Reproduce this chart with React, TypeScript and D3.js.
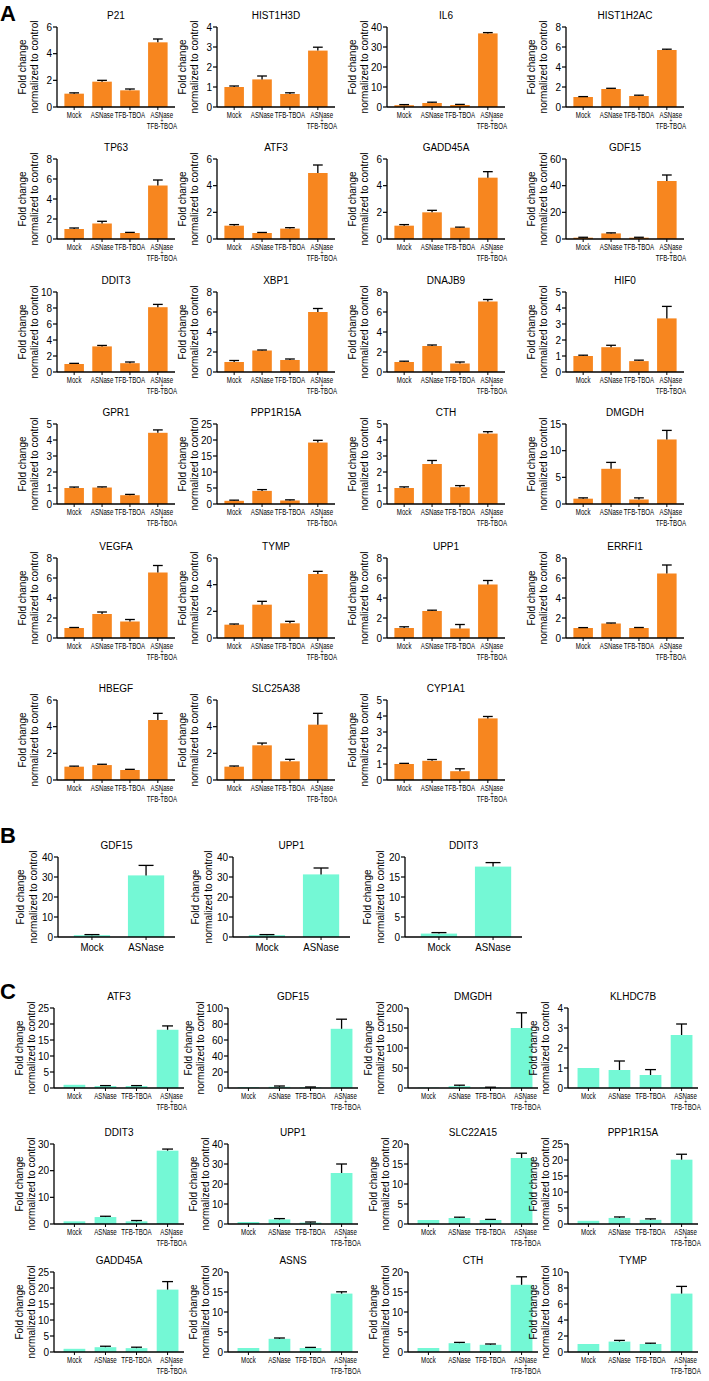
import React from "react";
import * as d3 from "d3";

const ORANGE = "#f7861f";
const TEAL = "#74f8d5";
const FONT = "'Liberation Sans', Arial, Helvetica, sans-serif";

// ---------- DATA ----------
const categoriesA = ["Mock", "ASNase", "TFB-TBOA", "ASNase + TFB-TBOA"];
const categoriesB = ["Mock", "ASNase"];

const genesA = ["P21", "HIST1H3D", "IL6", "HIST1H2AC", "TP63", "ATF3", "GADD45A", "GDF15", "DDIT3", "XBP1", "DNAJB9", "HIF0", "GPR1", "PPP1R15A", "CTH", "DMGDH", "VEGFA", "TYMP", "UPP1", "ERRFI1", "HBEGF", "SLC25A38", "CYP1A1"];
const yMaxA = [6, 4, 40, 8, 8, 6, 6, 60, 10, 8, 8, 5, 5, 25, 5, 15, 8, 6, 8, 8, 6, 6, 5];
const yStepA = [2, 1, 10, 2, 2, 2, 2, 20, 2, 2, 2, 1, 1, 5, 1, 5, 2, 2, 2, 2, 2, 2, 1];
const meansA = [
  [1.0, 1.9, 1.25, 4.85],
  [1.0, 1.38, 0.65, 2.82],
  [0.9, 2.0, 1.0, 36.8],
  [1.0, 1.8, 1.1, 5.7],
  [1.0, 1.55, 0.6, 5.35],
  [1.0, 0.45, 0.78, 4.95],
  [1.0, 2.0, 0.85, 4.6],
  [1.0, 4.2, 1.0, 43.5],
  [1.0, 3.2, 1.1, 8.1],
  [1.0, 2.15, 1.2, 6.0],
  [1.0, 2.6, 0.85, 7.05],
  [1.0, 1.55, 0.68, 3.35],
  [1.0, 1.03, 0.55, 4.45],
  [1.0, 4.1, 1.1, 19.2],
  [1.0, 2.5, 1.05, 4.4],
  [1.0, 6.6, 0.85, 12.1],
  [1.0, 2.4, 1.65, 6.55],
  [1.0, 2.5, 1.1, 4.8],
  [1.0, 2.7, 0.95, 5.35],
  [1.0, 1.45, 1.0, 6.45],
  [1.0, 1.12, 0.75, 4.5],
  [1.0, 2.6, 1.4, 4.15],
  [1.0, 1.2, 0.55, 3.85],
];
const errorsA = [
  [0.06, 0.1, 0.1, 0.25],
  [0.05, 0.17, 0.06, 0.17],
  [0.3, 0.4, 0.3, 0.4],
  [0.04, 0.07, 0.08, 0.08],
  [0.1, 0.22, 0.06, 0.55],
  [0.08, 0.04, 0.07, 0.6],
  [0.08, 0.15, 0.04, 0.45],
  [0.3, 0.4, 0.3, 4.5],
  [0.08, 0.12, 0.15, 0.35],
  [0.15, 0.05, 0.1, 0.35],
  [0.08, 0.1, 0.15, 0.2],
  [0.05, 0.12, 0.06, 0.75],
  [0.06, 0.04, 0.05, 0.18],
  [0.2, 0.4, 0.2, 0.7],
  [0.07, 0.22, 0.1, 0.12],
  [0.15, 1.2, 0.3, 1.7],
  [0.05, 0.2, 0.2, 0.7],
  [0.05, 0.25, 0.15, 0.2],
  [0.12, 0.08, 0.4, 0.4],
  [0.04, 0.05, 0.05, 0.85],
  [0.04, 0.06, 0.05, 0.5],
  [0.05, 0.17, 0.15, 0.85],
  [0.04, 0.08, 0.15, 0.12],
];

const genesB = ["GDF15", "UPP1", "DDIT3"];
const yMaxB = [40, 40, 20];
const yStepB = [10, 10, 5];
const meansB = [
  [0.9, 30.8],
  [0.9, 31.3],
  [0.85, 17.6],
];
const errorsB = [
  [0.3, 5.0],
  [0.3, 3.2],
  [0.25, 1.0],
];

const genesC = ["ATF3", "GDF15", "DMGDH", "KLHDC7B", "DDIT3", "UPP1", "SLC22A15", "PPP1R15A", "GADD45A", "ASNS", "CTH", "TYMP"];
const yMaxC = [25, 100, 200, 4, 30, 40, 20, 25, 25, 20, 20, 10];
const yStepC = [5, 20, 50, 1, 10, 10, 5, 5, 5, 5, 5, 2];
const meansC = [
  [1.0, 0.6, 0.6, 18.2],
  [1.0, 1.5, 0.8, 74],
  [1.0, 4.5, 1.0, 150],
  [1.0, 0.9, 0.65, 2.65],
  [1.0, 2.6, 1.0, 27.5],
  [1.0, 2.3, 0.7, 25.5],
  [1.0, 1.5, 1.0, 16.5],
  [1.0, 1.9, 1.3, 20.1],
  [1.0, 1.5, 1.2, 19.5],
  [1.0, 3.3, 1.0, 14.6],
  [1.0, 2.2, 1.8, 16.8],
  [1.0, 1.3, 1.0, 7.3],
];
const errorsC = [
  [0, 0.15, 0.15, 1.2],
  [0, 1.0, 0.5, 12],
  [0, 2.5, 1.0, 38],
  [0, 0.45, 0.27, 0.55],
  [0, 0.3, 0.3, 0.6],
  [0, 0.4, 0.3, 4.5],
  [0, 0.2, 0.15, 1.2],
  [0, 0.3, 0.3, 1.7],
  [0, 0.3, 0.3, 2.5],
  [0, 0.2, 0.15, 0.45],
  [0, 0.2, 0.2, 2.0],
  [0, 0.15, 0.1, 0.9],
];

// ---------- LAYOUT ----------
const PLOT_H = 80;
const A_COLS = [57, 217, 387, 566];
const A_TOPS = [27, 159, 292, 424, 558, 700];
const B_COLS = [58, 233, 405];
const B_TOPS = [857];
const C_COLS = [54, 228, 408, 568];
const C_TOPS = [1008, 1144, 1272];

type ChartProps = {
  title: string;
  cats: string[];
  means: number[];
  errs: number[];
  yMax: number;
  yStep: number;
  ax: number;
  top: number;
  axisLen: number;
  band: [number, number];
  padInner: number;
  padOuter: number;
  color: string;
  twoGroup?: boolean;
  yLab: [number, number];
};

const XL_SIZE = 8.3;
const XL_SCALE = 0.74;

function BarChart(p: ChartProps) {
  const h = PLOT_H;
  const base = p.top + h;
  const x = d3
    .scaleBand<string>()
    .domain(p.cats)
    .range([p.ax + p.band[0], p.ax + p.band[1]])
    .paddingInner(p.padInner)
    .paddingOuter(p.padOuter);
  const y = d3.scaleLinear().domain([0, p.yMax]).range([base, p.top]);
  const ticks = d3.range(0, p.yMax + p.yStep / 2, p.yStep);
  const bw = x.bandwidth();
  const cap = Math.min(bw * 0.5, 15);
  const cx = p.ax + p.axisLen / 2;
  const digits = d3.max(ticks, (t) => String(t).length) as number;
  const extra = Math.max(0, digits - 2) * 5;
  return (
    <g>
      <text x={cx} y={p.top - 8} fontSize={10} textAnchor="middle" fontFamily={FONT}>
        {p.title}
      </text>
      {/* y label */}
      <g transform={`translate(${p.ax}, ${p.top + h / 2}) rotate(-90)`} fontFamily={FONT} fontSize={10} textAnchor="middle">
        <text x={0} y={-p.yLab[0] - extra}>Fold change</text>
        <text x={0} y={-p.yLab[1] - extra}>normalized to control</text>
      </g>
      {/* bars */}
      {p.cats.map((c, i) => {
        const x0 = x(c) as number;
        const v = p.means[i];
        const e = p.errs[i];
        const xc = x0 + bw / 2;
        return (
          <g key={c}>
            <rect x={x0} y={y(v)} width={bw} height={base - y(v)} fill={p.color} />
            {e > 0 && (
              <g stroke="#000" strokeWidth={1.3}>
                <line x1={xc} x2={xc} y1={y(v)} y2={y(v + e)} />
                <line x1={xc - cap / 2} x2={xc + cap / 2} y1={y(v + e)} y2={y(v + e)} />
              </g>
            )}
          </g>
        );
      })}
      {/* axes */}
      <line x1={p.ax} x2={p.ax} y1={p.top} y2={base} stroke="#000" strokeWidth={1.3} />
      <line x1={p.ax} x2={p.ax + p.axisLen} y1={base} y2={base} stroke="#000" strokeWidth={1.3} />
      {ticks.map((t) => (
        <g key={t}>
          <line x1={p.ax - 4} x2={p.ax} y1={y(t)} y2={y(t)} stroke="#000" strokeWidth={1.2} />
          <text x={p.ax - 5} y={y(t)} dy="0.35em" fontSize={10} textAnchor="end" fontFamily={FONT}>
            {t}
          </text>
        </g>
      ))}
      {p.cats.map((c) => {
        const xc = (x(c) as number) + bw / 2;
        const parts = c.split(" + ");
        const lx = (xc + 4) / XL_SCALE;
        return (
          <g key={c}>
            <line x1={xc} x2={xc} y1={base} y2={base + 3} stroke="#000" strokeWidth={1} />
            {p.twoGroup ? (
              <text transform={`translate(${xc}, ${base + 14}) scale(0.88,1)`} fontSize={11} textAnchor="middle" fontFamily={FONT}>
                {c}
              </text>
            ) : parts.length === 1 ? (
              <text transform={`translate(${xc}, ${base + 11}) scale(${XL_SCALE},1)`} fontSize={XL_SIZE} textAnchor="middle" fontFamily={FONT}>
                {c}
              </text>
            ) : (
              <text
                transform={`scale(${XL_SCALE},1)`}
                fontFamily={FONT}
                textAnchor="middle"
                fontSize={XL_SIZE}
              >
                <tspan x={lx} y={base + 11}>{parts[0]}</tspan>
                <tspan x={lx} y={base + 16} fontSize={6.5}>+</tspan>
                <tspan x={lx} y={base + 22}>{parts[1]}</tspan>
              </text>
            )}
          </g>
        );
      })}
    </g>
  );
}

export default function App() {
  return (
    <svg
      width={709}
      height={1381}
      viewBox="0 0 709 1381"
      style={{ position: "absolute", left: 0, top: 0, background: "#fff" }}
    >
      <rect x={0} y={0} width={709} height={1381} fill="#fff" />
      <g fontFamily={FONT} fontWeight="bold" fontSize={22}>
        <text x={0} y={21}>A</text>
        <text x={0} y={843}>B</text>
        <text x={0} y={999}>C</text>
      </g>
      {genesA.map((g, i) => (
        <BarChart
          key={"A" + i}
          title={g}
          cats={categoriesA}
          means={meansA[i]}
          errs={errorsA[i]}
          yMax={yMaxA[i]}
          yStep={yStepA[i]}
          ax={A_COLS[i % 4]}
          top={A_TOPS[Math.floor(i / 4)]}
          axisLen={118}
          band={[6, 112]}
          padInner={0.3}
          padOuter={0.05}
          color={ORANGE}
          yLab={[31, 19]}
        />
      ))}
      {genesB.map((g, i) => (
        <BarChart
          key={"B" + i}
          title={g}
          cats={categoriesB}
          means={meansB[i]}
          errs={errorsB[i]}
          yMax={yMaxB[i]}
          yStep={yStepB[i]}
          ax={B_COLS[i]}
          top={B_TOPS[0]}
          axisLen={117}
          band={[5, 117]}
          padInner={0.33}
          padOuter={0.2}
          color={TEAL}
          twoGroup
          yLab={[34, 21]}
        />
      ))}
      {genesC.map((g, i) => (
        <BarChart
          key={"C" + i}
          title={g}
          cats={categoriesA}
          means={meansC[i]}
          errs={errorsC[i]}
          yMax={yMaxC[i]}
          yStep={yStepC[i]}
          ax={C_COLS[i % 4]}
          top={C_TOPS[Math.floor(i / 4)]}
          axisLen={130}
          band={[8, 126]}
          padInner={0.3}
          padOuter={0.05}
          color={TEAL}
          yLab={[31, 19]}
        />
      ))}
    </svg>
  );
}
